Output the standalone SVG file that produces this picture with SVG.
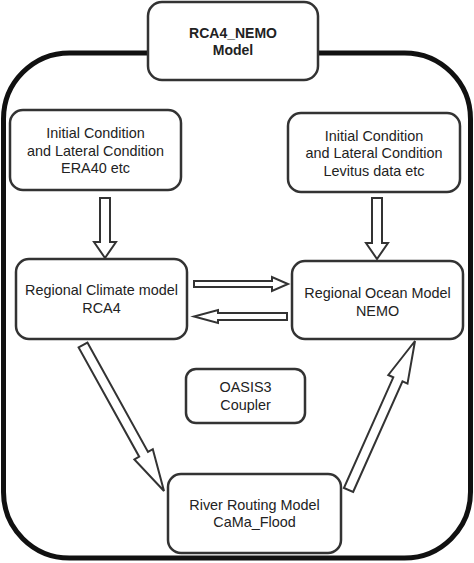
<svg xmlns="http://www.w3.org/2000/svg" width="474" height="563" viewBox="0 0 474 563">
<style>
.box{fill:#fff;stroke:#333;stroke-width:2.5}
.frame{fill:none;stroke:#111;stroke-width:5}
.arr{fill:#fff;stroke:#333;stroke-width:2;stroke-linejoin:miter}
text{font-family:"Liberation Sans",Arial,sans-serif;font-size:14.4px;fill:#222;text-anchor:middle}
.b{font-weight:bold;font-size:14px}
</style>
<rect width="474" height="563" fill="#fff"/>
<rect class="frame" x="3.5" y="53" width="467" height="505" rx="66"/>
<g id="connectors">
<polygon class="arr" points="100,198 110,198 110,242 116,242 105,258 94,242 100,242"/>
<polygon class="arr" points="372,198 382,198 382,243 388,243 377,259 366,243 372,243"/>
<polygon class="arr" points="194,281 272,281 272,277 288,284 272,291 272,287 194,287"/>
<polygon class="arr" points="287,313 218,313 218,310 194,316.5 218,323 218,320 287,320"/>
<polygon class="arr" points="87.4,342.6 148,451.9 152.8,449.2 164,491 134.4,459.4 139.2,456.7 78.6,347.4"/>
<polygon class="arr" points="353.1,492 402.5,381.3 407.5,383.6 415,341 388.3,375 393.3,377.3 343.9,488"/>
</g>
<g id="title">
<rect class="box" x="148" y="2" width="170" height="78" rx="14"/>
<text class="b" x="233" y="38">RCA4_NEMO</text>
<text class="b" x="233" y="55">Model</text>
</g>
<g id="init-left">
<rect class="box" x="10" y="110" width="171" height="80" rx="13"/>
<text x="95.5" y="138">Initial Condition</text>
<text x="95.5" y="156">and Lateral Condition</text>
<text x="95.5" y="173">ERA40 etc</text>
</g>
<g id="init-right">
<rect class="box" x="288" y="113" width="172" height="79" rx="13"/>
<text x="374" y="141">Initial Condition</text>
<text x="374" y="158">and Lateral Condition</text>
<text x="374" y="176">Levitus data etc</text>
</g>
<g id="rca4">
<rect class="box" x="16" y="259" width="171" height="80" rx="13"/>
<text x="101.5" y="295">Regional Climate model</text>
<text x="101.5" y="313">RCA4</text>
</g>
<g id="nemo">
<rect class="box" x="292" y="261" width="171" height="78" rx="13"/>
<text x="377.5" y="298">Regional Ocean Model</text>
<text x="377.5" y="316">NEMO</text>
</g>
<g id="oasis">
<rect class="box" x="186" y="369" width="119" height="54" rx="10"/>
<text x="245.5" y="392">OASIS3</text>
<text x="245.5" y="410">Coupler</text>
</g>
<g id="cama">
<rect class="box" x="168" y="474" width="173" height="79" rx="13"/>
<text x="254.5" y="510">River Routing Model</text>
<text x="254.5" y="527">CaMa_Flood</text>
</g>
</svg>
